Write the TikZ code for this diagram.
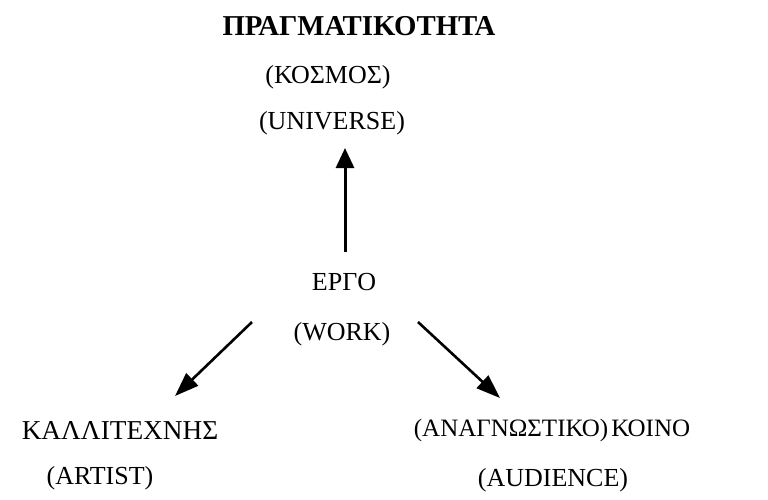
\documentclass[tikz,border=0pt]{standalone}
\usepackage{fontspec}
\setmainfont{Liberation Serif}
\usetikzlibrary{arrows.meta}
\begin{document}
\begin{tikzpicture}[x=1pt,y=-1pt,
  lbl/.style={inner sep=0pt, font=\fontsize{26}{30}\selectfont},
  arr/.style={line width=3pt, -{Triangle[width=18pt,length=20pt]}},
  darr/.style={line width=2.6pt, -{Triangle[width=17pt,length=24pt]}}]
\useasboundingbox[fill=white] (0,0) rectangle (768,499);
\node[lbl, font=\fontsize{28.8}{30}\bfseries] (prag) at (359,26) {ΠΡΑΓΜΑΤΙΚΟΤΗΤΑ};
\node[lbl] (kosm) at (328,77) {(ΚΟΣΜΟΣ)};
\node[lbl] (univ) at (332,123) {(UNIVERSE)};
\node[lbl] (ergo) at (344,282) {ΕΡΓΟ};
\node[lbl] (work) at (342,334) {(WORK)};
\node[lbl, font=\fontsize{27.3}{30}\selectfont] (kall) at (120,430) {ΚΑΛΛΙΤΕΧΝΗΣ};
\node[lbl] (artist) at (100,478) {(ARTIST)};
\node[lbl, font=\fontsize{25}{30}\selectfont] (koino) at (552,430) {(ΑΝΑΓΝΩΣΤΙΚΟ)\hspace{0.12em}ΚΟΙΝΟ};
\node[lbl] (aud) at (553,480) {(AUDIENCE)};
\coordinate (upS) at (345,252);
\coordinate (upT) at (345,148);
\coordinate (lS) at (252,322);
\coordinate (lT) at (175,396);
\coordinate (rS) at (418,322);
\coordinate (rT) at (500,398);
\draw[arr] (upS) -- (upT);
\draw[darr] (lS) -- (lT);
\draw[darr] (rS) -- (rT);
\end{tikzpicture}
\end{document}
